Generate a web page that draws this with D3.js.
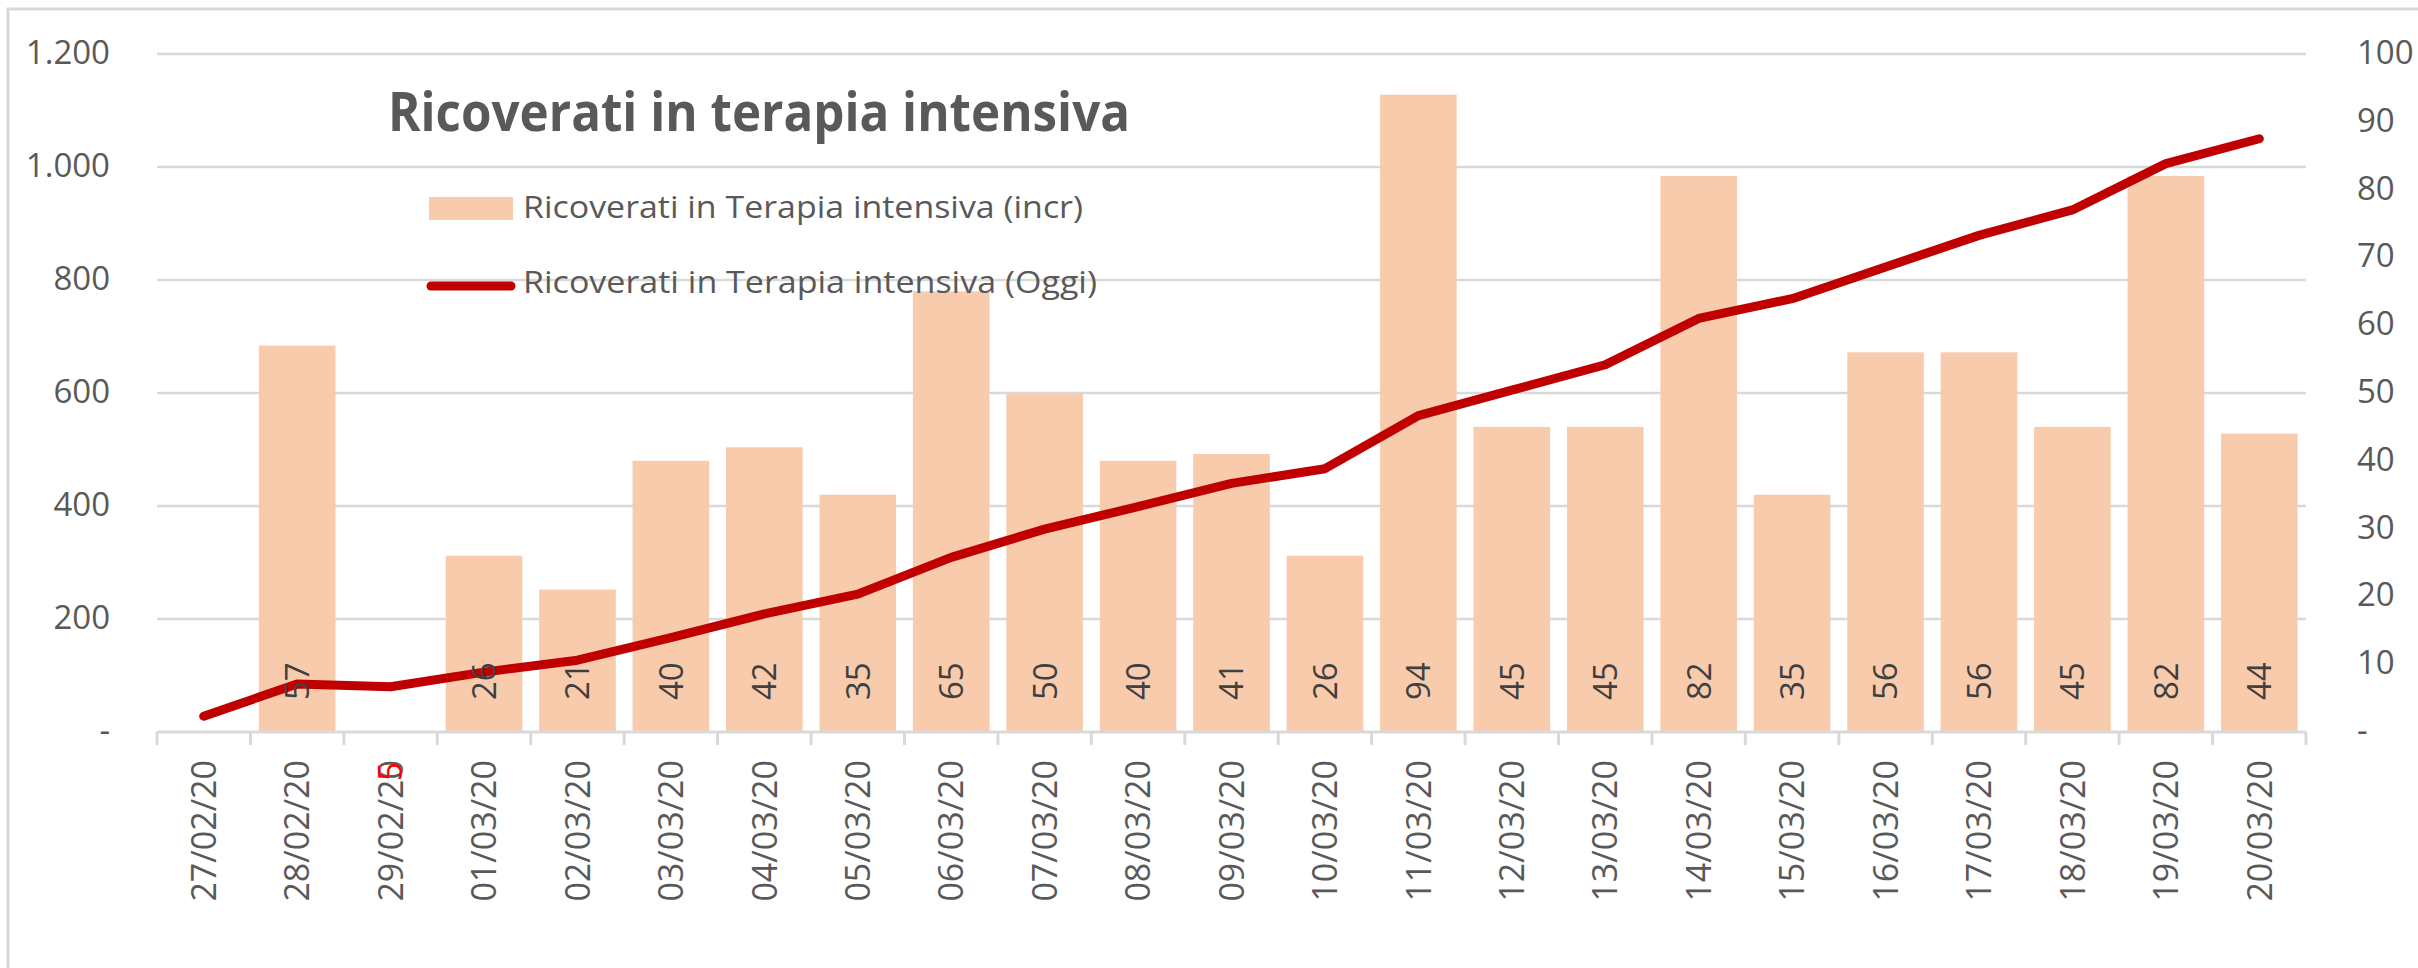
<!DOCTYPE html>
<html>
<head>
<meta charset="utf-8">
<script src="https://cdn.jsdelivr.net/npm/d3@7"></script>
<style>
  body { margin: 0; background: #fff; }
  svg { display: block; }
  text { font-family: "Open Sans", "Liberation Sans", sans-serif; }
</style>
</head>
<body>
<svg id="chart" width="2418" height="968"></svg>
<script>
// dati (Lombardia)
var dates = ["27/02/20","28/02/20","29/02/20","01/03/20","02/03/20","03/03/20","04/03/20",
  "05/03/20","06/03/20","07/03/20","08/03/20","09/03/20","10/03/20","11/03/20","12/03/20",
  "13/03/20","14/03/20","15/03/20","16/03/20","17/03/20","18/03/20","19/03/20","20/03/20"];
// incremento giornaliero (asse destro)
var incr = [null, 57, -5, 26, 21, 40, 42, 35, 65, 50, 40, 41, 26, 94, 45, 45, 82, 35, 56, 56, 45, 82, 44];
// totale ricoverati oggi (asse sinistro)
var oggi = [28, 85, 80, 106, 127, 167, 209, 244, 309, 359, 399, 440, 466, 560, 605, 650, 732, 767, 823, 879, 924, 1006, 1050];
var leftTicks = [0, 200, 400, 600, 800, 1000, 1200];
var rightTicks = [0, 10, 20, 30, 40, 50, 60, 70, 80, 90, 100];
var legendLabels = ["Ricoverati in Terapia intensiva (incr)", "Ricoverati in Terapia intensiva (Oggi)"];
var titleText = "Ricoverati in terapia intensiva";

var barColor = "#f8cbad", lineColor = "#c00000", gridColor = "#d9d9d9", textColor = "#595959";

var svg = d3.select("#chart");

var plot = {left: 157, right: 2306, top: 54, bottom: 732};

var x = d3.scaleBand()
  .domain(dates)
  .range([plot.left, plot.right])
  .paddingInner(0.18)
  .paddingOuter(0.09);

var yL = d3.scaleLinear().domain([0, 1200]).range([plot.bottom, plot.top]);
var yR = d3.scaleLinear().domain([0, 100]).range([plot.bottom, plot.top]);

var it = d3.formatLocale({decimal: ",", thousands: ".", grouping: [3], currency: ["€", ""]});
var fmt = function(v) { return v === 0 ? "-" : it.format(",d")(v); };
var cx = function(d) { return x(d) + x.bandwidth() / 2; };

// bordo esterno
svg.append("rect")
  .attr("x", 8).attr("y", 9)
  .attr("width", 2600).attr("height", 1200)
  .attr("fill", "none")
  .attr("stroke", gridColor)
  .attr("stroke-width", 3);

svg.append("defs").append("clipPath").attr("id", "plotclip")
  .append("rect")
  .attr("x", plot.left).attr("y", plot.top)
  .attr("width", plot.right - plot.left).attr("height", plot.bottom - plot.top);

// griglia
svg.append("g")
  .selectAll("line")
  .data(leftTicks.filter(function(t) { return t > 0; }))
  .enter().append("line")
  .attr("x1", plot.left).attr("x2", plot.right)
  .attr("y1", function(d) { return yL(d); })
  .attr("y2", function(d) { return yL(d); })
  .attr("stroke", gridColor)
  .attr("stroke-width", 2.5);

// barre
svg.append("g")
  .attr("clip-path", "url(#plotclip)")
  .selectAll("rect")
  .data(dates.map(function(d, i) { return {d: d, v: incr[i]}; }).filter(function(p) { return p.v !== null && p.v > 0; }))
  .enter().append("rect")
  .attr("x", function(p) { return x(p.d); })
  .attr("width", x.bandwidth())
  .attr("y", function(p) { return yR(p.v); })
  .attr("height", function(p) { return yR(0) - yR(p.v); })
  .attr("fill", barColor);

// asse x
var axisG = svg.append("g");
axisG.append("line")
  .attr("x1", plot.left).attr("x2", plot.right)
  .attr("y1", plot.bottom).attr("y2", plot.bottom)
  .attr("stroke", gridColor)
  .attr("stroke-width", 3);
axisG.selectAll(".tick")
  .data(d3.range(dates.length + 1))
  .enter().append("line")
  .attr("x1", function(i) { return plot.left + i * x.step(); })
  .attr("x2", function(i) { return plot.left + i * x.step(); })
  .attr("y1", plot.bottom)
  .attr("y2", plot.bottom + 13)
  .attr("stroke", gridColor)
  .attr("stroke-width", 3);

axisG.selectAll(".xlab")
  .data(dates)
  .enter().append("text")
  .attr("transform", function(d) { return "translate(" + cx(d) + "," + (plot.bottom + 28) + ") rotate(-90)"; })
  .attr("dy", "0.36em")
  .attr("text-anchor", "end")
  .attr("font-size", 34)
  .attr("fill", textColor)
  .text(function(d) { return d; });

// assi y
svg.append("g").selectAll("text")
  .data(leftTicks)
  .enter().append("text")
  .attr("x", 110)
  .attr("y", function(d) { return yL(d) + 10; })
  .attr("text-anchor", "end")
  .attr("font-size", 33)
  .attr("fill", textColor)
  .text(fmt);

svg.append("g").selectAll("text")
  .data(rightTicks)
  .enter().append("text")
  .attr("x", 2357)
  .attr("y", function(d) { return yR(d) + 10; })
  .attr("text-anchor", "start")
  .attr("font-size", 33)
  .attr("fill", textColor)
  .text(fmt);

// linea
var line = d3.line()
  .x(function(d, i) { return cx(dates[i]); })
  .y(function(d) { return yL(d); });

svg.append("path")
  .datum(oggi)
  .attr("d", line)
  .attr("fill", "none")
  .attr("stroke", lineColor)
  .attr("stroke-width", 9)
  .attr("stroke-linecap", "round")
  .attr("stroke-linejoin", "round");

// etichette dati (base interna)
svg.append("g").selectAll("text")
  .data(dates.map(function(d, i) { return {d: d, v: incr[i]}; }).filter(function(p) { return p.v !== null; }))
  .enter().append("text")
  .attr("transform", function(p) {
    var yy = p.v < 0 ? yR(0) + 49 : yR(0) - 32;
    return "translate(" + cx(p.d) + "," + yy + ") rotate(-90)";
  })
  .attr("dy", "0.36em")
  .attr("text-anchor", "start")
  .attr("font-size", 33)
  .attr("fill", function(p) { return p.v < 0 ? "#ff0000" : "#404040"; })
  .text(function(p) { return Math.abs(p.v); });

// legenda
var leg = svg.append("g");
leg.append("rect")
  .attr("x", 429).attr("y", 197)
  .attr("width", 84).attr("height", 23)
  .attr("fill", barColor);
leg.append("line")
  .attr("x1", 431).attr("x2", 511)
  .attr("y1", 286).attr("y2", 286)
  .attr("stroke", lineColor)
  .attr("stroke-width", 9)
  .attr("stroke-linecap", "round");
leg.selectAll("text")
  .data(legendLabels)
  .enter().append("text")
  .attr("x", 523)
  .attr("y", function(d, i) { return i === 0 ? 218 : 293; })
  .attr("font-family", "Liberation Sans")
  .attr("font-size", 31)
  .attr("textLength", function(d, i) { return i === 0 ? 560 : 574; })
  .attr("lengthAdjust", "spacingAndGlyphs")
  .attr("fill", textColor)
  .text(function(d) { return d; });

// titolo
svg.append("text")
  .attr("x", 388)
  .attr("y", 131)
  .attr("font-family", "Liberation Sans")
  .attr("font-weight", "bold")
  .attr("font-size", 53)
  .attr("textLength", 742)
  .attr("lengthAdjust", "spacingAndGlyphs")
  .attr("fill", textColor)
  .text(titleText);
</script>
</body>
</html>
